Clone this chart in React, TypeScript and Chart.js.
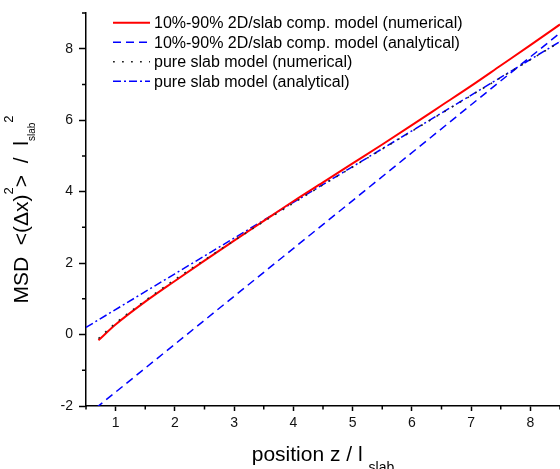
import React, { useEffect, useRef } from 'react';
import { Chart, registerables } from 'chart.js';

Chart.register(...registerables);

const FONT = "'Liberation Sans', Arial, Helvetica, sans-serif";

// 10%-90% 2D/slab composite model (numerical)
const compNumX = [0.71, 1.0, 1.5, 2.0, 2.5, 3.0, 3.5, 4.0, 4.5, 5.0, 5.5, 6.0, 6.5, 7.0, 7.5, 8.0, 8.5];
const compNumY = [-0.16, 0.28, 0.92, 1.5, 2.07, 2.63, 3.18, 3.73, 4.26, 4.79, 5.32, 5.86, 6.41, 6.96, 7.53, 8.1, 8.68];
// 10%-90% 2D/slab composite model (analytical)
const compAnaX = [0.5, 8.5];
const compAnaY = [-2.28, 8.44];
// pure slab model (numerical)
const slabNumX = [0.71, 1.0, 1.5, 2.0, 2.5, 3.0, 3.5, 4.0, 4.5, 5.0, 5.5, 6.0, 6.5, 7.0, 7.5, 8.0, 8.5];
const slabNumY = [-0.11, 0.32, 0.95, 1.54, 2.09, 2.63, 3.16, 3.68, 4.19, 4.69, 5.19, 5.69, 6.19, 6.69, 7.19, 7.69, 8.19];
// pure slab model (analytical)
const slabAnaX = [0.5, 2.0, 4.0, 6.0, 8.5];
const slabAnaY = [0.2, 1.7, 3.7, 5.7, 8.2];

const xMajorTicks = [1, 2, 3, 4, 5, 6, 7, 8];
const xMinorTicks = [0.5, 1.5, 2.5, 3.5, 4.5, 5.5, 6.5, 7.5, 8.5];
const yMajorTicks = [-2, 0, 2, 4, 6, 8];
const yMinorTicks = [-1, 1, 3, 5, 7, 9];

const legendLabels = [
  '10%-90% 2D/slab comp. model (numerical)',
  '10%-90% 2D/slab comp. model (analytical)',
  'pure slab model (numerical)',
  'pure slab model (analytical)',
];

const zip = (xs: number[], ys: number[]) => xs.map((x, i) => ({ x, y: ys[i] }));

type Run = { t: string; s: number; dy: number; gap?: number };

function runsWidth(ctx: CanvasRenderingContext2D, runs: Run[]) {
  let w = 0;
  for (const r of runs) {
    ctx.font = `${r.s}px ${FONT}`;
    w += (r.gap || 0) + ctx.measureText(r.t).width;
  }
  return w;
}

function drawRuns(ctx: CanvasRenderingContext2D, runs: Run[], startX: number) {
  let x = startX;
  for (const r of runs) {
    ctx.font = `${r.s}px ${FONT}`;
    x += r.gap || 0;
    ctx.fillText(r.t, x, r.dy);
    x += ctx.measureText(r.t).width;
  }
}

const overlayPlugin = {
  id: 'overlay',
  afterDraw(chart: any) {
    const ctx: CanvasRenderingContext2D = chart.ctx;
    const xs = chart.scales.x;
    const ys = chart.scales.y;
    const area = chart.chartArea;
    ctx.save();
    // minor ticks
    ctx.strokeStyle = '#000';
    ctx.lineWidth = 1.5;
    ctx.beginPath();
    xMinorTicks.forEach((v) => {
      const p = xs.getPixelForValue(v);
      ctx.moveTo(p, area.bottom);
      ctx.lineTo(p, area.bottom + 3.5);
    });
    yMinorTicks.forEach((v) => {
      const p = ys.getPixelForValue(v);
      ctx.moveTo(area.left, p);
      ctx.lineTo(area.left - 4, p);
    });
    ctx.stroke();

    // legend
    const ds = chart.data.datasets;
    legendLabels.forEach((label, i) => {
      const y = 22.7 + i * 19.5;
      const d = ds[i];
      ctx.save();
      ctx.strokeStyle = d.borderColor;
      ctx.lineWidth = d.borderWidth;
      ctx.setLineDash(d.borderDash || []);
      ctx.beginPath();
      ctx.moveTo(113, y);
      ctx.lineTo(150, y);
      ctx.stroke();
      ctx.restore();
      ctx.fillStyle = '#000';
      ctx.font = `16px ${FONT}`;
      ctx.textBaseline = 'middle';
      ctx.textAlign = 'left';
      ctx.fillText(label, 154, y + 1);
    });

    // axis titles
    ctx.fillStyle = '#000';
    ctx.textBaseline = 'alphabetic';
    ctx.textAlign = 'left';
    const xRuns: Run[] = [
      { t: 'position z / l', s: 21, dy: 0 },
      { t: 'slab', s: 14, dy: 11, gap: 6 },
    ];
    const xw = runsWidth(ctx, xRuns);
    ctx.save();
    ctx.translate((area.left + area.right) / 2, 461);
    drawRuns(ctx, xRuns, -xw / 2);
    ctx.restore();

    const yRuns: Run[] = [
      { t: 'MSD  <(\u0394x)', s: 21, dy: 0 },
      { t: '2', s: 13, dy: -15 },
      { t: '>  /  l', s: 21, dy: 0 },
      { t: 'slab', s: 10, dy: 7 },
      { t: '2', s: 13, dy: -15 },
    ];
    const yw = runsWidth(ctx, yRuns);
    ctx.save();
    ctx.translate(28, (area.top + area.bottom) / 2);
    ctx.rotate(-Math.PI / 2);
    drawRuns(ctx, yRuns, -yw / 2);
    ctx.restore();

    ctx.restore();
  },
};

export default function App() {
  const ref = useRef<HTMLCanvasElement | null>(null);

  useEffect(() => {
    document.body.style.margin = '0';
    const canvas = ref.current;
    if (!canvas) return;
    const chart = new Chart(canvas, {
      type: 'line',
      data: {
        datasets: [
          {
            label: legendLabels[0],
            data: zip(compNumX, compNumY),
            borderColor: '#ff0000',
            borderWidth: 2,
            borderDash: [],
            pointRadius: 0,
            cubicInterpolationMode: 'monotone',
            order: 1,
          },
          {
            label: legendLabels[1],
            data: zip(compAnaX, compAnaY),
            borderColor: '#0000ff',
            borderWidth: 1.5,
            borderDash: [8, 5],
            pointRadius: 0,
            order: 2,
          },
          {
            label: legendLabels[2],
            data: zip(slabNumX, slabNumY),
            borderColor: '#222222',
            borderWidth: 1.5,
            borderDash: [1.8, 7.2],
            pointRadius: 0,
            cubicInterpolationMode: 'monotone',
            order: 0,
          },
          {
            label: legendLabels[3],
            data: zip(slabAnaX, slabAnaY),
            borderColor: '#0000ff',
            borderWidth: 1.5,
            borderDash: [8, 3, 2, 3],
            pointRadius: 0,
            order: 3,
          },
        ],
      } as any,
      options: {
        animation: false,
        responsive: false,
        devicePixelRatio: 1,
        layout: { padding: { left: 0, right: 0, top: 7, bottom: 0 } },
        plugins: {
          legend: { display: false },
          tooltip: { enabled: false },
        },
        scales: {
          x: {
            type: 'linear',
            min: 0.5,
            max: 8.5,
            afterBuildTicks: (s: any) => {
              s.ticks = xMajorTicks.map((v) => ({ value: v }));
            },
            afterFit: (s: any) => {
              s.height = 63;
            },
            grid: {
              drawOnChartArea: false,
              drawTicks: true,
              tickLength: 5,
              tickColor: '#000',
              tickWidth: 1.5,
            },
            border: { display: true, color: '#000', width: 1.5 },
            ticks: {
              color: '#111',
              padding: 5,
              maxRotation: 0,
              autoSkip: false,
              font: { family: FONT, size: 14, lineHeight: 1 },
              callback: (v: any) => String(v),
            },
          },
          y: {
            type: 'linear',
            min: -2,
            max: 9,
            afterBuildTicks: (s: any) => {
              s.ticks = yMajorTicks.map((v) => ({ value: v }));
            },
            afterFit: (s: any) => {
              s.width = 86;
            },
            grid: {
              drawOnChartArea: false,
              drawTicks: true,
              tickLength: 7,
              tickColor: '#000',
              tickWidth: 1.5,
            },
            border: { display: true, color: '#000', width: 1.5 },
            ticks: {
              color: '#111',
              padding: 6,
              autoSkip: false,
              font: { family: FONT, size: 14, lineHeight: 1 },
              callback: (v: any) => String(v),
            },
          },
        },
      } as any,
      plugins: [overlayPlugin],
    });
    return () => chart.destroy();
  }, []);

  return (
    <div style={{ width: 560, height: 469 }}>
      <canvas ref={ref} width={560} height={469} style={{ display: 'block' }} />
    </div>
  );
}
